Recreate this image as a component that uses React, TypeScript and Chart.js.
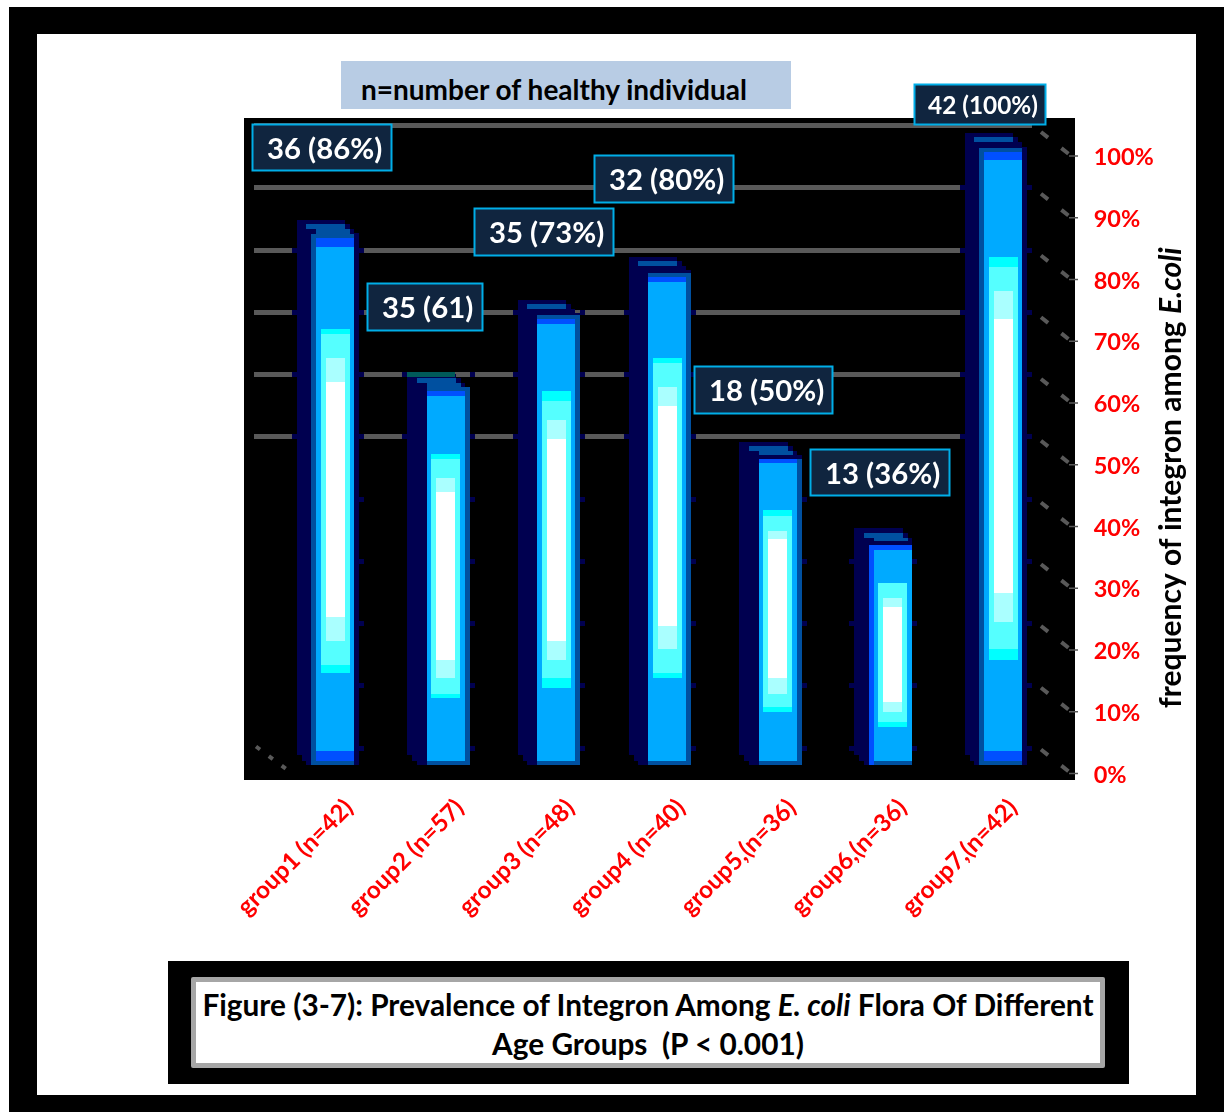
import React, { useEffect, useRef } from "react";
import { Chart, registerables } from "chart.js";

Chart.register(...registerables);

// ---- data -------------------------------------------------------------
const groupLabels = [
  "group1 (n=42)",
  "group2 (n=57)",
  "group3 (n=48)",
  "group4 (n=40)",
  "group5,(n=36)",
  "group6,(n=36)",
  "group7,(n=42)",
];
const prevalence = [86, 61, 73, 80, 50, 36, 100];
const valueLabels = ["36 (86%)", "35 (61)", "35 (73%)", "32 (80%)", "18 (50%)", "13 (36%)", "42 (100%)"];
const axisTicks = [0, 10, 20, 30, 40, 50, 60, 70, 80, 90, 100];

// Extent of the glow bands painted inside each column, on the percent axis.
const cyanTop = [72.0, 51.8, 62.0, 67.3, 42.6, 30.9, 83.7];
const aquaTop = [71.2, 51.0, 60.4, 66.5, 41.7, 30.9, 82.0];
const paleTop = [67.3, 47.9, 57.3, 62.6, 39.3, 28.5, 78.2];
const whiteTop = [63.4, 45.6, 54.2, 59.5, 37.9, 27.0, 73.6];
const whiteBottom = [25.4, 18.4, 21.5, 23.9, 15.4, 11.5, 29.3];
const paleBottom = [21.5, 15.4, 18.4, 20.1, 12.9, 9.9, 24.6];
const aquaBottom = [17.6, 12.9, 15.4, 16.2, 10.7, 8.4, 20.1];
const cyanBottom = [16.2, 12.3, 13.8, 15.4, 9.9, 7.6, 18.4];
const footBandTop = [3.64, 2.1, 2.1, 2.1, 2.1, 2.1, 3.64];
const faceTop = [85.3, 61.1, 72.8, 79.6, 50.3, 36.2, 99.3];
const capBandTop = [86.7, 61.9, 73.6, 80.4, 50.9, 37, 100.6];

// ---- look of the columns ----------------------------------------------
const FONT = "Lato, 'Open Sans', sans-serif";
const NAVY = "#000050";
const TEAL = "#005a5a";
const LIGHT = "#00aaff";
const BLUE = "#0050ff";
const STEEL = "#0050a0";
const GRID = "#595959";
const BASE = 1.4;

const sideShift = [0, 0, 0, 0, 0, 4, 4];
const navyRight = [31, 31, 31, 31, 31, 30.5, 35];
const lidSecondRow = [STEEL, STEEL, NAVY, NAVY, STEEL, STEEL, NAVY];
const capStrip = [STEEL, STEEL, STEEL, STEEL, NAVY, NAVY, STEEL];
const rightEdge = [false, true, true, true, true, false, false];
const edgeColor = [STEEL, STEEL, STEEL, STEEL, STEEL, BLUE, STEEL];

type Span = (i: number) => [number, number];
const shifted = (a: number, b: number): Span => (i) => [a + sideShift[i], b + sideShift[i]];
const faceSpan: Span = (i) => [-12 + sideShift[i], Math.min(26 + sideShift[i], navyRight[i])];

function layer(
  range: (i: number) => [number, number],
  span: Span,
  color: string | ((i: number) => string)
) {
  return {
    data: prevalence.map((_, i) => range(i)),
    faceSpan: span,
    backgroundColor: prevalence.map((_, i) => (typeof color === "string" ? color : color(i))),
    grouped: false,
    clip: false,
    borderWidth: 0,
    inflateAmount: 0,
  };
}

// Layers listed from the back of a column to its front.
const v = prevalence;
const columnLayers = [
  layer((i) => [3.0, v[i] + 3.7], shifted(-31.5, -26.5), NAVY),
  layer((i) => [2.1, v[i] + 3.7], shifted(-26.5, -22), NAVY),
  layer((i) => [BASE, v[i] + 3.7], shifted(-22, 17), NAVY),
  layer((i) => [BASE, v[i] + 3.0], shifted(17, 22), NAVY),
  layer((i) => [BASE, v[i] + 2.2], shifted(22, 26), NAVY),
  layer((i) => [BASE, v[i] + 1.5], (i) => [26 + sideShift[i], navyRight[i]], NAVY),
  layer((i) => [v[i] + 2.2, v[i] + 3.0], shifted(-22, 17), STEEL),
  layer((i) => [v[i] + 1.4, v[i] + 2.2], shifted(-12, 22), (i) => lidSecondRow[i]),
  layer((i) => [capBandTop[i], capBandTop[i] + 0.7], shifted(-12, 26), (i) => capStrip[i]),
  layer(
    (i) => [BASE, capBandTop[i] + (capStrip[i] === STEEL ? 0.7 : 0)],
    (i) => (rightEdge[i] ? [26, 31] : [-17 + sideShift[i], -12 + sideShift[i]]),
    (i) => edgeColor[i]
  ),
  layer((i) => [2.1, capBandTop[i]], faceSpan, BLUE),
  layer((i) => [footBandTop[i], faceTop[i]], faceSpan, LIGHT),
  layer(() => [BASE, 2.1], faceSpan, STEEL),
  layer((i) => [cyanBottom[i], cyanTop[i]], shifted(-7.5, 21.5), "#00ffff"),
  layer((i) => [aquaBottom[i], aquaTop[i]], shifted(-7.5, 21.5), "#55ffff"),
  layer((i) => [paleBottom[i], paleTop[i]], shifted(-2.5, 16.5), "#aaffff"),
  layer((i) => [whiteBottom[i], whiteTop[i]], shifted(-2.5, 16.5), "#ffffff"),
];

// Call-out boxes: [left, top, right, bottom, text left] on the page.
const calloutBoxes = [
  [252, 124, 392, 171, 267],
  [367, 283, 483, 331, 382],
  [474, 208, 614, 256, 489],
  [594, 155, 734, 203, 609],
  [694, 366, 833, 414, 709],
  [810, 449, 950, 496, 825],
  [914, 84, 1046, 125, 928],
];

// Back wall position of a level: the wall sits up and to the left of the front axis.
const wallY = (y: number, level: number) => y - 31 + (100 - level) * 0.05;

// Moves every layer of a column onto its own crisp pixel span.
const columnSpans = {
  id: "columnSpans",
  afterDatasetsUpdate(chart: any) {
    chart.data.datasets.forEach((ds: any, d: number) => {
      chart.getDatasetMeta(d).data.forEach((el: any, i: number) => {
        const c = chart.scales.x.getPixelForValue(i);
        const [a, b] = ds.faceSpan(i);
        const l = Math.round(c + a);
        const r = Math.round(c + b);
        el.x = (l + r) / 2;
        el.width = r - l;
        el.y = Math.round(el.y);
        el.base = Math.round(el.base);
      });
    });
  },
};

// The black stage, the back wall lines and the dotted depth edges.
const stage = {
  id: "stage",
  beforeDatasetsDraw(chart: any) {
    const { ctx, scales } = chart;
    const { x, y } = scales;
    ctx.save();
    ctx.fillStyle = "#000000";
    ctx.fillRect(244, 118, 831, 662);

    ctx.fillStyle = GRID;
    axisTicks.forEach((t) => {
      if (t >= 50) ctx.fillRect(254, Math.round(wallY(y.getPixelForValue(t), t)) - 2, 778, 5);
    });

    ctx.strokeStyle = GRID;
    axisTicks.forEach((t) => {
      const py = y.getPixelForValue(t);
      ctx.lineWidth = 4;
      ctx.setLineDash([9, 17]);
      ctx.beginPath();
      ctx.moveTo(1041, py - 24);
      ctx.lineTo(1070, py - 1);
      ctx.stroke();
      ctx.setLineDash([]);
      ctx.lineWidth = 1.5;
      ctx.beginPath();
      ctx.moveTo(1069, py);
      ctx.lineTo(1078, py);
      ctx.stroke();
    });
    const y0 = y.getPixelForValue(0);
    ctx.lineWidth = 4;
    ctx.setLineDash([5, 11]);
    ctx.beginPath();
    ctx.moveTo(256, y0 - 27);
    ctx.lineTo(291, y0 - 1);
    ctx.stroke();
    ctx.setLineDash([]);

    // Short stubs where a wall line meets a column.
    prevalence.forEach((val, i) => {
      const c = x.getPixelForValue(i);
      const left = Math.round(c - 31.5 + sideShift[i]);
      const right = Math.round(c + navyRight[i]);
      axisTicks.forEach((t) => {
        if (t === 100) return;
        const wy = Math.round(wallY(y.getPixelForValue(t), t));
        if (wy + 2 < y.getPixelForValue(val + 3.7)) return;
        ctx.fillStyle = NAVY;
        ctx.fillRect(right, wy - 2, 5, 5);
        if (t >= 50 || i === 5) ctx.fillRect(left - 5, wy - 2, 5, 5);
      });
    });
    ctx.restore();
  },
  afterDatasetsDraw(chart: any) {
    const { ctx, scales } = chart;
    const { x, y } = scales;
    ctx.save();

    // A wall line running just behind a column's top edge shows through as teal.
    prevalence.forEach((val, i) => {
      const topY = y.getPixelForValue(val + 3.7);
      axisTicks.forEach((t) => {
        if (t === 100) return;
        const wy = Math.round(wallY(y.getPixelForValue(t), t));
        if (Math.abs(topY - wy) < 3) {
          const c = x.getPixelForValue(i);
          ctx.fillStyle = TEAL;
          ctx.fillRect(Math.round(c - 31.5), wy - 2, 48, 5);
        }
      });
    });

    valueLabels.forEach((text, i) => {
      const [l, t, r, b, tx] = calloutBoxes[i];
      ctx.fillStyle = "#10253f";
      ctx.fillRect(l, t, r - l, b - t);
      ctx.strokeStyle = "#00aee8";
      ctx.lineWidth = 2;
      ctx.strokeRect(l + 0.5, t + 0.5, r - l - 1, b - t - 1);
      ctx.fillStyle = "#ffffff";
      ctx.font = `bold ${i === 6 ? 24.4 : 29.3}px ${FONT}`;
      ctx.textAlign = "left";
      ctx.textBaseline = "middle";
      ctx.fillText(text, tx, (t + b) / 2 + 2);
    });

    // Rotated axis caption with the italic species name.
    ctx.translate(1181, 708);
    ctx.rotate(-Math.PI / 2);
    ctx.fillStyle = "#000000";
    ctx.textBaseline = "alphabetic";
    ctx.font = `bold 30px ${FONT}`;
    const head = "frequency of integron among ";
    ctx.fillText(head, 0, 0);
    const w = ctx.measureText(head).width;
    ctx.font = `italic bold 30px ${FONT}`;
    ctx.fillText("E.coli", w, 0);
    ctx.restore();
  },
};

export default function App() {
  const ref = useRef<HTMLCanvasElement>(null);

  useEffect(() => {
    const chart = new Chart(ref.current as HTMLCanvasElement, {
      type: "bar",
      data: { labels: groupLabels, datasets: [...columnLayers].reverse() as any },
      plugins: [columnSpans, stage],
      options: {
        animation: false,
        responsive: false,
        events: [],
        layout: { padding: { left: 272.65, top: 156, right: 0, bottom: 0 } },
        plugins: { legend: { display: false }, tooltip: { enabled: false }, title: { display: false } },
        scales: {
          x: {
            offset: true,
            grid: { display: false },
            border: { display: false },
            afterFit: (s: any) => {
              s.height = 1112 - 773.5;
            },
            ticks: {
              color: "#ff0000",
              font: { family: FONT, weight: "bold", size: 24.2 },
              minRotation: 45,
              maxRotation: 45,
              labelOffset: 21,
              padding: 12,
              autoSkip: false,
            },
          },
          y: {
            position: "right",
            min: 0,
            max: 100,
            grid: { display: false },
            border: { display: false },
            afterFit: (s: any) => {
              s.width = 1224 - 1047.65;
            },
            afterBuildTicks: (s: any) => {
              s.ticks = axisTicks.map((value) => ({ value }));
            },
            ticks: {
              color: "#ff0000",
              font: { family: FONT, weight: "bold", size: 23.5 },
              padding: 38,
              labelOffset: 1.5,
              callback: (val: any) => `${val}%`,
            },
          },
        },
      } as any,
    });
    return () => chart.destroy();
  }, []);

  const abs = (l: number, t: number, r: number, b: number, extra: React.CSSProperties = {}): React.CSSProperties => ({
    position: "absolute",
    left: l,
    top: t,
    width: r - l,
    height: b - t,
    boxSizing: "border-box",
    ...extra,
  });

  return (
    <div style={{ position: "fixed", left: 0, top: 0, width: 1224, height: 1112, overflow: "hidden", background: "#fff" }}>
      <div style={abs(9, 7, 1224, 1112, { background: "#000" })} />
      <div style={abs(37, 34, 1196, 1095, { background: "#fff" })} />
      <div
        style={abs(341, 61, 791, 109, {
          background: "#b8cce4",
          fontFamily: FONT,
          fontWeight: 700,
          fontSize: 28,
          lineHeight: "56px",
          paddingLeft: 20,
          color: "#000",
          whiteSpace: "nowrap",
        })}
      >
        n=number of healthy individual
      </div>
      <div style={abs(168, 961, 1129, 1084, { background: "#000" })} />
      <div
        style={abs(191, 977, 1105, 1068, {
          background: "#fff",
          border: "5px solid #a6a6a6",
          borderRadius: 2,
          fontFamily: FONT,
          fontWeight: 700,
          fontSize: 29.8,
          lineHeight: "39px",
          color: "#000",
          textAlign: "center",
          paddingTop: 3,
          whiteSpace: "nowrap",
        })}
      >
        Figure (3-7): Prevalence of Integron Among <i>E. coli</i> Flora Of Different
        <br />
        Age Groups&nbsp; (P &lt; 0.001)
      </div>
      <canvas ref={ref} width={1224} height={1112} style={{ position: "absolute", left: 0, top: 0, display: "block" }} />
    </div>
  );
}
